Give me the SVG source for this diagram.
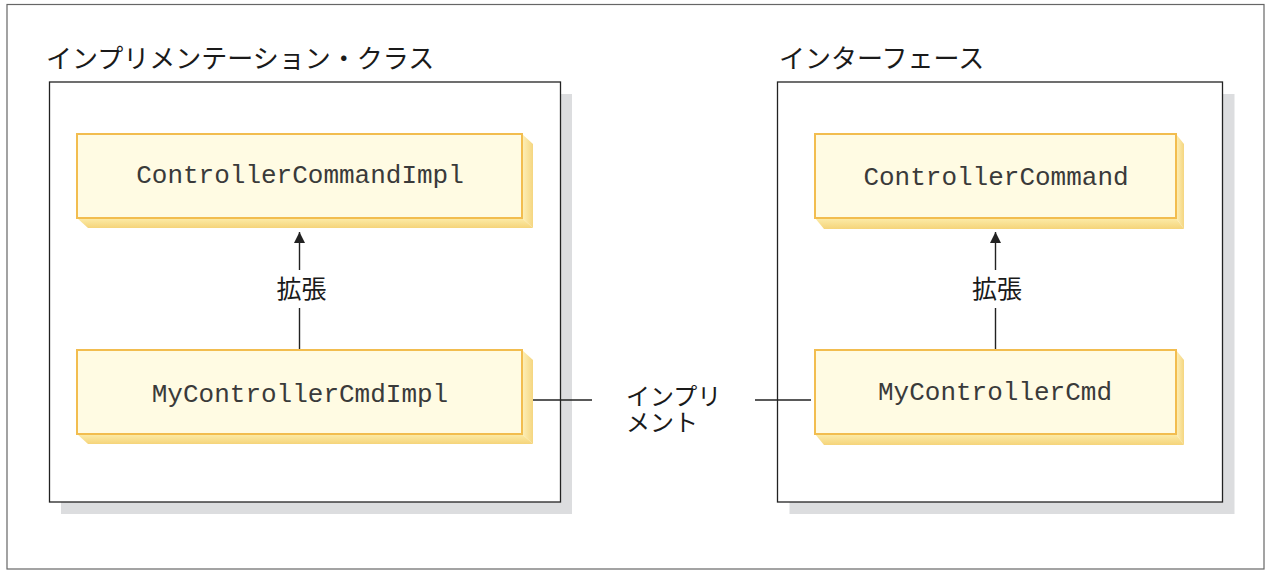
<svg xmlns="http://www.w3.org/2000/svg" width="1274" height="571" viewBox="0 0 1274 571">
  <style>
    .frame { fill: #ffffff; stroke: #666666; stroke-width: 1.2; }
    .container { fill: #ffffff; stroke: #222222; stroke-width: 1.3; }
    .shadow { fill: #dcdddf; }
    .face { fill: #fffbe3; stroke: #f2bd4f; stroke-width: 2; }
    .side { fill: url(#sideGrad); }
    .bottom { fill: url(#bottomGrad); }
    .code { font-family: "Liberation Mono", "DejaVu Sans Mono", monospace; font-size: 26px; fill: #3a3a3a; text-anchor: middle; }
    .jp { font-family: "Noto Sans CJK JP", "Noto Sans", sans-serif; fill: #1a1a1a; }
    .title { font-size: 26px; }
    .label { font-size: 25px; text-anchor: middle; }
    .impl { font-size: 24px; }
    .conn { stroke: #222222; stroke-width: 1.4; fill: none; }
  </style>
  <defs>
    <linearGradient id="sideGrad" x1="0" y1="0" x2="1" y2="0">
      <stop offset="0" stop-color="#fdf0bb"/>
      <stop offset="1" stop-color="#f5d680"/>
    </linearGradient>
    <linearGradient id="bottomGrad" x1="0" y1="0" x2="0" y2="1">
      <stop offset="0" stop-color="#fcecaa"/>
      <stop offset="1" stop-color="#f5d47a"/>
    </linearGradient>
    <marker id="arrow" viewBox="0 0 10 10" refX="10" refY="5" markerWidth="11" markerHeight="11" markerUnits="userSpaceOnUse" orient="auto">
      <path d="M0,0 L10,5 L0,10 z" fill="#222222"/>
    </marker>
  </defs>

  <rect class="frame" x="7" y="4.5" width="1257" height="564.5"/>

  <g id="impl-class-group">
    <rect class="shadow" x="61" y="94" width="511" height="420"/>
    <rect class="container" x="49.5" y="82" width="511" height="420"/>
    <text class="jp title" x="46" y="68">インプリメンテーション・クラス</text>
  </g>

  <g id="interface-group">
    <rect class="shadow" x="789.5" y="94" width="445" height="420"/>
    <rect class="container" x="777.5" y="82" width="445" height="420"/>
    <text class="jp title" x="779" y="68">インターフェース</text>
  </g>

  <g id="connectors">
    <line class="conn" x1="299.5" y1="270" x2="299.5" y2="232" marker-end="url(#arrow)"/>
    <line class="conn" x1="299.5" y1="308" x2="299.5" y2="350"/>
    <line class="conn" x1="995.5" y1="270" x2="995.5" y2="232" marker-end="url(#arrow)"/>
    <line class="conn" x1="995.5" y1="308" x2="995.5" y2="350"/>
    <line class="conn" x1="533" y1="400" x2="592" y2="400"/>
    <line class="conn" x1="755" y1="400" x2="811" y2="400"/>
    <text class="jp label" x="301.5" y="298">拡張</text>
    <text class="jp label" x="997" y="298">拡張</text>
    <text class="jp impl" x="626" y="405"><tspan x="626" y="405">インプリ</tspan><tspan x="626" y="431">メント</tspan></text>
  </g>

  <g id="ControllerCommandImpl">
    <polygon class="side" points="522,134 533,144 533,228 522,218"/>
    <polygon class="bottom" points="77,218 522,218 533,228 88,228"/>
    <rect class="face" x="77" y="134" width="445" height="84"/>
    <text class="code" x="300" y="183">ControllerCommandImpl</text>
  </g>

  <g id="MyControllerCmdImpl">
    <polygon class="side" points="522,350 533,360 533,444 522,434"/>
    <polygon class="bottom" points="77,434 522,434 533,444 88,444"/>
    <rect class="face" x="77" y="350" width="445" height="84"/>
    <text class="code" x="300" y="402">MyControllerCmdImpl</text>
  </g>

  <g id="ControllerCommand">
    <polygon class="side" points="1176,134 1184,144 1184,229 1176,218"/>
    <polygon class="bottom" points="815,218 1176,218 1184,229 824,229"/>
    <rect class="face" x="815" y="134" width="361" height="84"/>
    <text class="code" x="996" y="185">ControllerCommand</text>
  </g>

  <g id="MyControllerCmd">
    <polygon class="side" points="1176,350 1184,360 1184,445 1176,434"/>
    <polygon class="bottom" points="815,434 1176,434 1184,445 824,445"/>
    <rect class="face" x="815" y="350" width="361" height="84"/>
    <text class="code" x="995" y="400">MyControllerCmd</text>
  </g>
</svg>
